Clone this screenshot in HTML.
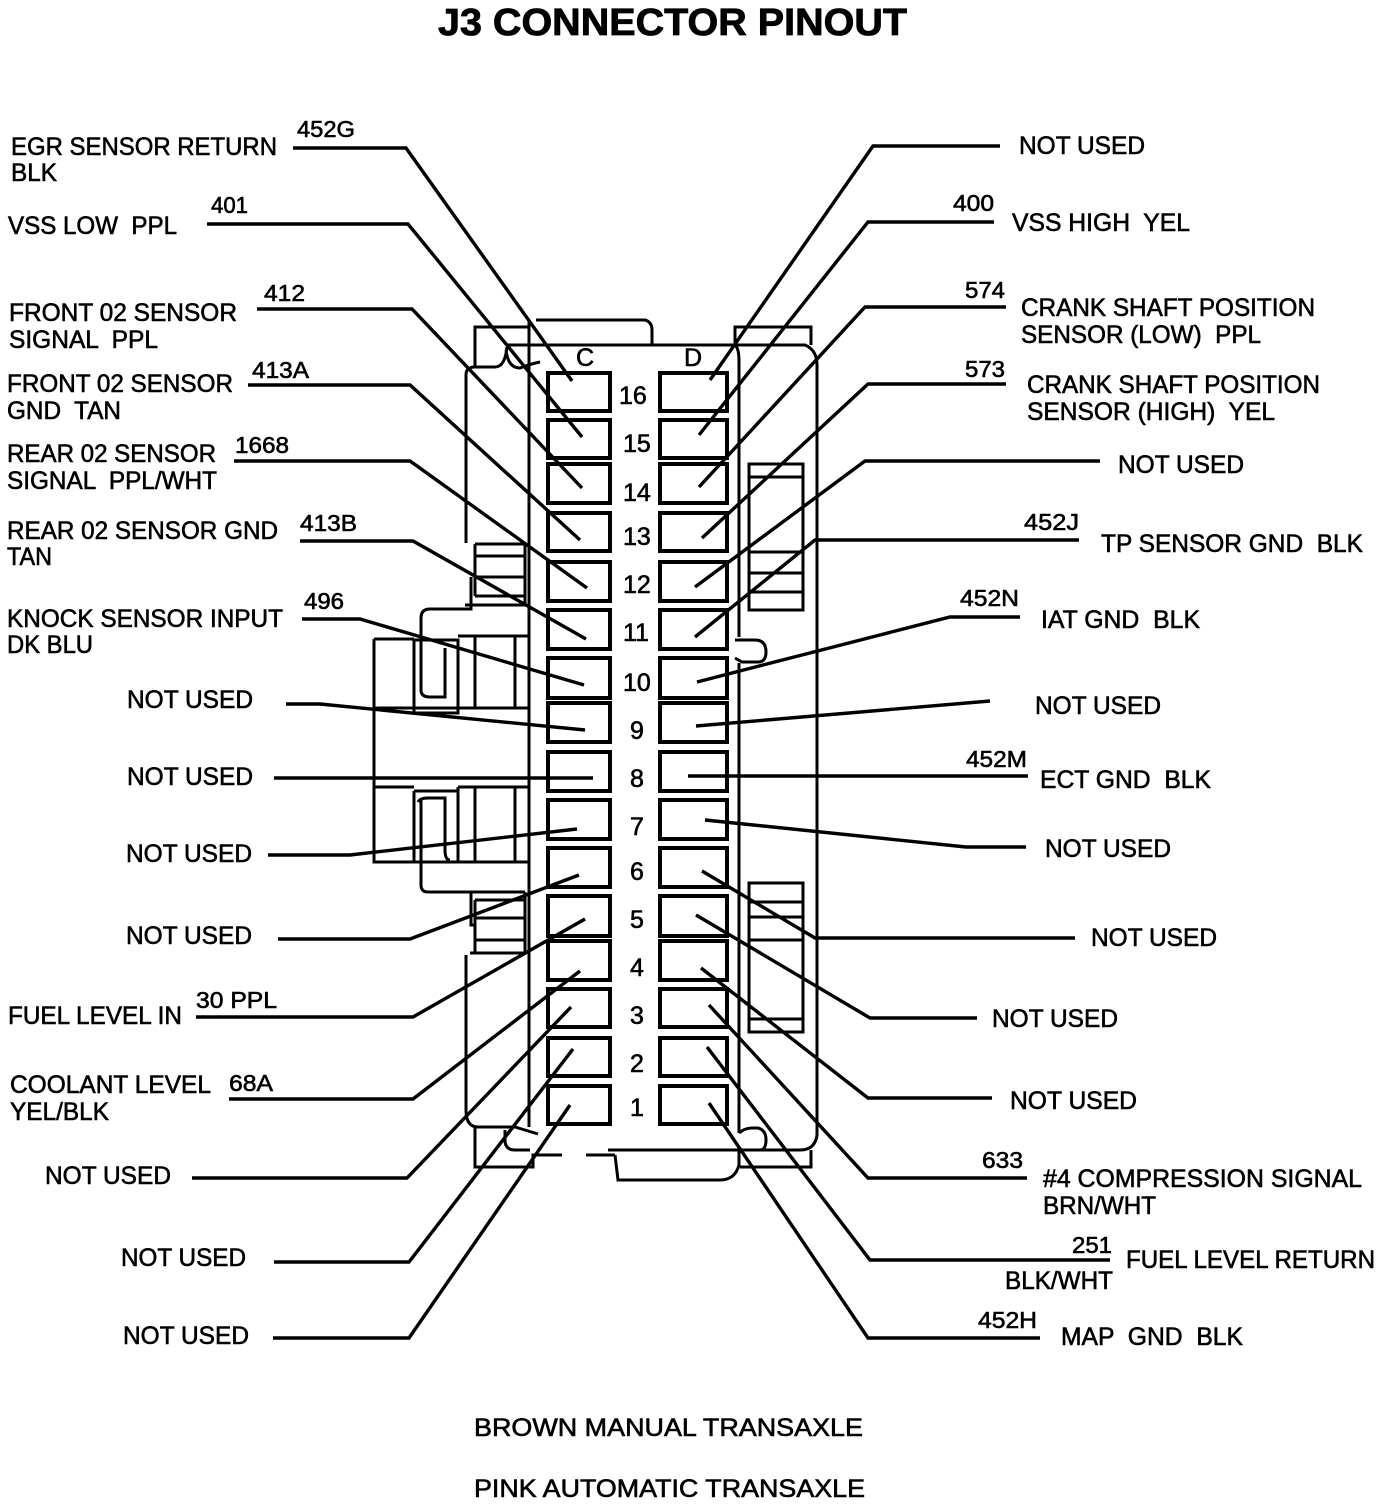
<!DOCTYPE html>
<html><head><meta charset="utf-8"><style>
html,body{margin:0;padding:0;background:#fff}
svg{display:block}
text{font-family:"Liberation Sans",Arial,sans-serif;font-size:25px;fill:#000;stroke:#000;stroke-width:.6;white-space:pre}
.s{font-size:23px}
.t{font-size:38px;font-weight:bold;stroke-width:.8}
.l{fill:none;stroke:#000;stroke-width:3.4}
.h{fill:none;stroke:#000;stroke-width:3}
.p{fill:none;stroke:#000;stroke-width:4}
</style></head><body>
<svg width="1392" height="1504" viewBox="0 0 1392 1504" xmlns="http://www.w3.org/2000/svg">
<rect width="1392" height="1504" fill="#fff"/>
<!-- housing -->
<g class="h">
<path d="M529 322V1127M536 320H645Q652 322 652 330V345M508 345H805Q817 350 817 365V1135Q815 1150 800 1150H608"/>
<path d="M735 345Q739 348 739 362V637M739 663V1133M739 1150V1165Q735 1180 720 1180H618L615 1155"/>
<path d="M529 327H475V367H495Q505 367 507 347M506 350Q508 368 520 368Q530 364 540 362"/>
<path d="M735 345V327H811V345"/>
<path d="M466 543V375Q466 367 475 367M466 955V1110Q466 1127 478 1127H515L538 1134M505 1130V1140Q505 1150 515 1150H530"/>
<path d="M475 1127V1167H533V1155H562M586 1155H615M740 1167H811V1150M748 1150H608"/>
<path d="M739 1133Q745 1128 752 1128H758Q766 1130 766 1140Q766 1150 760 1150M735 640H755Q766 640 766 652Q766 662 758 662H742L735 658"/>
<!-- right small housings -->
<rect x="749" y="464" width="54" height="146"/>
<path d="M749 477H803M749 552H803M749 573H803M749 592H803"/>
<rect x="749" y="883" width="54" height="149"/>
<path d="M749 902H803M749 917H803M749 940H803M749 1019H803"/>
<!-- left small housings -->
<path d="M475 544H525V605H465M475 544V596M475 556H525M475 577H525M475 596H525M471 577V609H430Q421 609 421 618V690Q421 697 430 697H445V648"/>
<path d="M414 640H458V713H414ZM458 636H529M374 708H529M475 636V708M515 636V708M374 639H414M374 639V862H529"/>
<path d="M374 787H414M414 791V862M414 791H458M458 787H529M458 787V862M475 787V862M515 787V862"/>
<path d="M421 800V885Q421 892 428 892H525M418 802Q420 798 428 798H445V850Q445 860 450 860"/>
<path d="M471 893V925H475M525 892V953H470M475 900V953M475 900H525M475 918H525M475 940H525"/>
</g>
<!-- pins -->
<g class="p">
<rect x="548" y="373" width="62" height="38"/><rect x="660" y="373" width="67" height="38"/>
<rect x="548" y="420" width="62" height="38"/><rect x="660" y="420" width="67" height="38"/>
<rect x="548" y="464" width="62" height="39"/><rect x="660" y="464" width="67" height="39"/>
<rect x="548" y="513" width="62" height="38"/><rect x="660" y="513" width="67" height="38"/>
<rect x="548" y="562" width="62" height="39"/><rect x="660" y="562" width="67" height="39"/>
<rect x="548" y="610" width="62" height="39"/><rect x="660" y="610" width="67" height="39"/>
<rect x="548" y="658" width="62" height="40"/><rect x="660" y="658" width="67" height="40"/>
<rect x="548" y="703" width="62" height="39"/><rect x="660" y="703" width="67" height="39"/>
<rect x="548" y="752" width="62" height="39"/><rect x="660" y="752" width="67" height="39"/>
<rect x="548" y="800" width="62" height="39"/><rect x="660" y="800" width="67" height="39"/>
<rect x="548" y="848" width="62" height="39"/><rect x="660" y="848" width="67" height="39"/>
<rect x="548" y="896" width="62" height="40"/><rect x="660" y="896" width="67" height="40"/>
<rect x="548" y="941" width="62" height="39"/><rect x="660" y="941" width="67" height="39"/>
<rect x="548" y="989" width="62" height="38"/><rect x="660" y="989" width="67" height="38"/>
<rect x="548" y="1038" width="62" height="38"/><rect x="660" y="1038" width="67" height="38"/>
<rect x="548" y="1086" width="62" height="38"/><rect x="660" y="1086" width="67" height="38"/>
</g>
<!-- leaders -->
<g class="l">
<polyline points="293,148 406,148 572,381"/>
<polyline points="207,224 408,224 582,437"/>
<polyline points="257,309 412,309 582,488"/>
<polyline points="248,385 410,385 580,540"/>
<polyline points="234,461 410,461 587,588"/>
<polyline points="300,541 413,541 586,639"/>
<polyline points="302,619 360,619 584,685"/>
<polyline points="286,704 320,704 585,730"/>
<polyline points="274,778 593,778"/>
<polyline points="268,855 350,855 577,829"/>
<polyline points="278,939 410,939 579,875"/>
<polyline points="196,1017 413,1017 585,919"/>
<polyline points="229,1099 413,1099 580,971"/>
<polyline points="192,1178 407,1178 571,1007"/>
<polyline points="274,1262 409,1262 573,1049"/>
<polyline points="273,1338 409,1338 570,1105"/>
<polyline points="1000,146 873,146 710,380"/>
<polyline points="994,222 868,222 699,435"/>
<polyline points="1006,307 865,307 699,487"/>
<polyline points="1006,384 868,384 702,538"/>
<polyline points="1100,461 865,461 695,587"/>
<polyline points="1079,540 815,540 695,637"/>
<polyline points="1020,617 950,617 697,682"/>
<polyline points="990,701 696,726"/>
<polyline points="1028,776 688,776"/>
<polyline points="1026,847 966,847 705,820"/>
<polyline points="1075,938 815,938 702,871"/>
<polyline points="977,1018 870,1018 696,915"/>
<polyline points="992,1098 868,1098 701,968"/>
<polyline points="1027,1178 868,1178 709,1005"/>
<polyline points="1110,1260 870,1260 707,1047"/>
<polyline points="1040,1338 868,1338 709,1103"/>
</g>
<!-- title -->
<text class="t" x="438" y="35" textLength="469" lengthAdjust="spacingAndGlyphs">J3 CONNECTOR PINOUT</text>
<!-- left labels -->
<g transform="translate(0,-1)">
<text x="11" y="156" textLength="266" lengthAdjust="spacingAndGlyphs">EGR SENSOR RETURN</text>
<text x="11" y="182" textLength="46" lengthAdjust="spacingAndGlyphs">BLK</text>
<text class="s" x="297" y="138" textLength="58" lengthAdjust="spacingAndGlyphs">452G</text>
<text class="s" x="211" y="214" textLength="37" lengthAdjust="spacingAndGlyphs">401</text>
<text x="8" y="235" textLength="169" lengthAdjust="spacingAndGlyphs">VSS LOW  PPL</text>
<text x="9" y="322" textLength="228" lengthAdjust="spacingAndGlyphs">FRONT 02 SENSOR</text>
<text x="9" y="349" textLength="149" lengthAdjust="spacingAndGlyphs">SIGNAL  PPL</text>
<text class="s" x="264" y="302" textLength="41" lengthAdjust="spacingAndGlyphs">412</text>
<text x="7" y="393" textLength="226" lengthAdjust="spacingAndGlyphs">FRONT 02 SENSOR</text>
<text x="7" y="420" textLength="114" lengthAdjust="spacingAndGlyphs">GND  TAN</text>
<text class="s" x="252" y="379" textLength="57" lengthAdjust="spacingAndGlyphs">413A</text>
<text x="7" y="463" textLength="209" lengthAdjust="spacingAndGlyphs">REAR 02 SENSOR</text>
<text x="7" y="490" textLength="210" lengthAdjust="spacingAndGlyphs">SIGNAL  PPL/WHT</text>
<text class="s" x="235" y="454" textLength="54" lengthAdjust="spacingAndGlyphs">1668</text>
<text x="7" y="540" textLength="271" lengthAdjust="spacingAndGlyphs">REAR 02 SENSOR GND</text>
<text x="7" y="566" textLength="45" lengthAdjust="spacingAndGlyphs">TAN</text>
<text class="s" x="300" y="532" textLength="57" lengthAdjust="spacingAndGlyphs">413B</text>
<text x="7" y="628" textLength="276" lengthAdjust="spacingAndGlyphs">KNOCK SENSOR INPUT</text>
<text x="7" y="654" textLength="86" lengthAdjust="spacingAndGlyphs">DK BLU</text>
<text class="s" x="304" y="610" textLength="40" lengthAdjust="spacingAndGlyphs">496</text>
<text x="127" y="709" textLength="126" lengthAdjust="spacingAndGlyphs">NOT USED</text>
<text x="127" y="786" textLength="126" lengthAdjust="spacingAndGlyphs">NOT USED</text>
<text x="126" y="863" textLength="126" lengthAdjust="spacingAndGlyphs">NOT USED</text>
<text x="126" y="945" textLength="126" lengthAdjust="spacingAndGlyphs">NOT USED</text>
<text x="8" y="1025" textLength="174" lengthAdjust="spacingAndGlyphs">FUEL LEVEL IN</text>
<text class="s" x="196" y="1009" textLength="81" lengthAdjust="spacingAndGlyphs">30 PPL</text>
<text x="10" y="1094" textLength="201" lengthAdjust="spacingAndGlyphs">COOLANT LEVEL</text>
<text x="10" y="1121" textLength="99" lengthAdjust="spacingAndGlyphs">YEL/BLK</text>
<text class="s" x="229" y="1092" textLength="44" lengthAdjust="spacingAndGlyphs">68A</text>
<text x="45" y="1185" textLength="126" lengthAdjust="spacingAndGlyphs">NOT USED</text>
<text x="121" y="1267" textLength="125" lengthAdjust="spacingAndGlyphs">NOT USED</text>
<text x="123" y="1345" textLength="126" lengthAdjust="spacingAndGlyphs">NOT USED</text>
</g>
<!-- right labels -->
<g>
<text x="1019" y="154" textLength="126" lengthAdjust="spacingAndGlyphs">NOT USED</text>
<text class="s" x="953" y="211" textLength="41" lengthAdjust="spacingAndGlyphs">400</text>
<text x="1012" y="231" textLength="178" lengthAdjust="spacingAndGlyphs">VSS HIGH  YEL</text>
<text class="s" x="965" y="298" textLength="40" lengthAdjust="spacingAndGlyphs">574</text>
<text x="1021" y="316" textLength="294" lengthAdjust="spacingAndGlyphs">CRANK SHAFT POSITION</text>
<text x="1021" y="343" textLength="240" lengthAdjust="spacingAndGlyphs">SENSOR (LOW)  PPL</text>
<text class="s" x="965" y="377" textLength="40" lengthAdjust="spacingAndGlyphs">573</text>
<text x="1027" y="393" textLength="293" lengthAdjust="spacingAndGlyphs">CRANK SHAFT POSITION</text>
<text x="1027" y="420" textLength="248" lengthAdjust="spacingAndGlyphs">SENSOR (HIGH)  YEL</text>
<text x="1118" y="473" textLength="126" lengthAdjust="spacingAndGlyphs">NOT USED</text>
<text class="s" x="1024" y="530" textLength="55" lengthAdjust="spacingAndGlyphs">452J</text>
<text x="1101" y="552" textLength="262" lengthAdjust="spacingAndGlyphs">TP SENSOR GND  BLK</text>
<text class="s" x="960" y="606" textLength="59" lengthAdjust="spacingAndGlyphs">452N</text>
<text x="1041" y="628" textLength="159" lengthAdjust="spacingAndGlyphs">IAT GND  BLK</text>
<text x="1035" y="714" textLength="126" lengthAdjust="spacingAndGlyphs">NOT USED</text>
<text class="s" x="966" y="767" textLength="61" lengthAdjust="spacingAndGlyphs">452M</text>
<text x="1040" y="788" textLength="171" lengthAdjust="spacingAndGlyphs">ECT GND  BLK</text>
<text x="1045" y="857" textLength="126" lengthAdjust="spacingAndGlyphs">NOT USED</text>
<text x="1091" y="946" textLength="126" lengthAdjust="spacingAndGlyphs">NOT USED</text>
<text x="992" y="1027" textLength="126" lengthAdjust="spacingAndGlyphs">NOT USED</text>
<text x="1010" y="1109" textLength="127" lengthAdjust="spacingAndGlyphs">NOT USED</text>
<text class="s" x="982" y="1168" textLength="41" lengthAdjust="spacingAndGlyphs">633</text>
<text x="1043" y="1187" textLength="319" lengthAdjust="spacingAndGlyphs">#4 COMPRESSION SIGNAL</text>
<text x="1043" y="1214" textLength="113" lengthAdjust="spacingAndGlyphs">BRN/WHT</text>
<text class="s" x="1072" y="1253" textLength="40" lengthAdjust="spacingAndGlyphs">251</text>
<text x="1126" y="1268" textLength="249" lengthAdjust="spacingAndGlyphs">FUEL LEVEL RETURN</text>
<text x="1005" y="1289" textLength="108" lengthAdjust="spacingAndGlyphs">BLK/WHT</text>
<text class="s" x="978" y="1328" textLength="59" lengthAdjust="spacingAndGlyphs">452H</text>
<text x="1061" y="1345" textLength="182" lengthAdjust="spacingAndGlyphs">MAP  GND  BLK</text>
<!-- bottom -->
<text x="474" y="1436" textLength="389" lengthAdjust="spacingAndGlyphs">BROWN MANUAL TRANSAXLE</text>
<text x="474" y="1497" textLength="391" lengthAdjust="spacingAndGlyphs">PINK AUTOMATIC TRANSAXLE</text>
<!-- connector letters / numbers -->
<text x="576" y="366">C</text>
<text x="684" y="366">D</text>
<text x="619" y="404">16</text>
<text x="623" y="452">15</text>
<text x="623" y="501">14</text>
<text x="623" y="545">13</text>
<text x="623" y="593">12</text>
<text x="623" y="641">11</text>
<text x="623" y="691">10</text>
<text x="630" y="739">9</text>
<text x="630" y="787">8</text>
<text x="630" y="835">7</text>
<text x="630" y="880">6</text>
<text x="630" y="928">5</text>
<text x="630" y="976">4</text>
<text x="630" y="1024">3</text>
<text x="630" y="1072">2</text>
<text x="630" y="1116">1</text>
</g>
</svg>
</body></html>
